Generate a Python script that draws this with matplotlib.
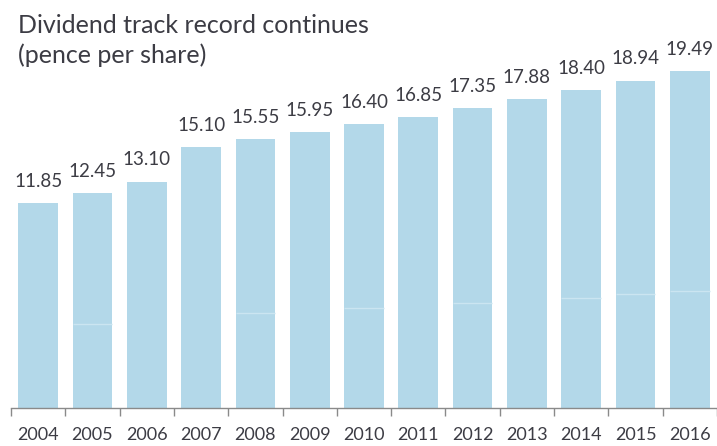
import matplotlib
matplotlib.use("Agg")
import matplotlib.pyplot as plt
import numpy as np

# Dividend per share (pence)
years = ["2004", "2005", "2006", "2007", "2008", "2009", "2010",
         "2011", "2012", "2013", "2014", "2015", "2016"]
dividends = [11.85, 12.45, 13.10, 15.10, 15.55, 15.95, 16.40,
             16.85, 17.35, 17.88, 18.40, 18.94, 19.49]
# faint split lines visible inside some bars (None where no line is visible)
interim = [None, 4.88, None, None, 5.49, None, 5.78,
           None, 6.10, None, 6.39, 6.58, 6.79]

BAR = "#b3d8e9"
SPLIT = "#cbe5f1"
TEXT = "#3c3c44"
AXIS = "#8a8a8a"

plt.rcParams["font.family"] = ["Lato", "DejaVu Sans"]

fig = plt.figure(figsize=(7.17, 4.46), dpi=100)
ax = fig.add_axes([11 / 717, 38 / 446, 706 / 717, 408 / 446])

x = np.arange(len(years))
width = 0.73
ax.bar(x, dividends, width=width, color=BAR, linewidth=0, zorder=2)

for xi, val in zip(x, interim):
    if val is not None:
        ax.hlines(val, xi - width / 2, xi + width / 2, color=SPLIT, linewidth=1.0, zorder=3)

for xi, val in zip(x, dividends):
    ax.text(xi, val + 0.93, f"{val:.2f}", ha="center", va="baseline",
            fontsize=13.5, color=TEXT)

ax.set_xlim(-0.48, 12.46)
ax.set_ylim(0, 23.6)

for side in ["top", "right", "left"]:
    ax.spines[side].set_visible(False)
ax.spines["bottom"].set_color(AXIS)
ax.spines["bottom"].set_linewidth(1.0)

ax.set_yticks([])
ax.set_xticks(x)
ax.set_xticklabels(years, fontsize=13, color=TEXT)
ax.tick_params(axis="x", which="major", length=0, pad=14)
ax.set_xticks(np.arange(len(years) + 1) - 0.5, minor=True)
ax.tick_params(axis="x", which="minor", length=6, width=1.0, color=AXIS)

fig.text(18 / 717, 1 - 33 / 446, "Dividend track record continues",
         fontsize=18, color=TEXT, ha="left", va="baseline")
fig.text(18 / 717, 1 - 63 / 446, "(pence per share)",
         fontsize=18, color=TEXT, ha="left", va="baseline")

fig.savefig("out.png", dpi=100, facecolor="white")
